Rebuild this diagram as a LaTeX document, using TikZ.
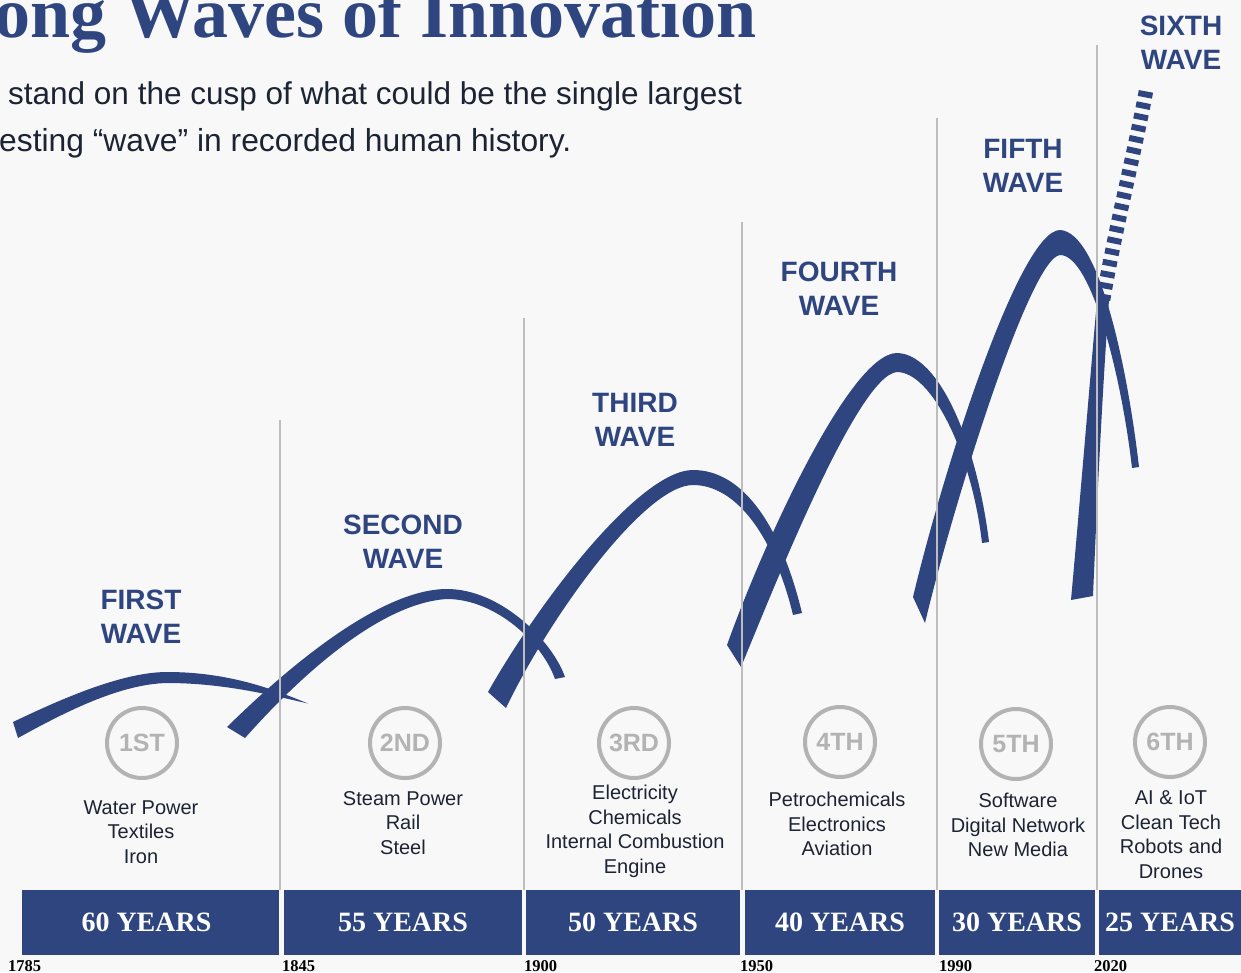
\documentclass[tikz,border=0pt]{standalone}
\usepackage{fontspec}
\setmainfont{Liberation Serif}
\newfontfamily\sansf{Liberation Sans}
\definecolor{navy}{HTML}{2E4580}
\definecolor{bgc}{HTML}{F8F8F9}
\definecolor{ink}{HTML}{1C2333}
\definecolor{ringgray}{HTML}{B3B3B3}
\definecolor{vline}{HTML}{BDBDBD}
\tikzset{
  wavefill/.style={fill=navy},
  divider/.style={draw=vline, line width=1.5pt},
  bar/.style={fill=navy, inner sep=0, text=white, font=\fontsize{28}{28}\selectfont\bfseries},
  yearlbl/.style={anchor=base west, inner sep=0, text=black, font=\fontsize{16.5}{16.5}\selectfont\bfseries},
  wavelbl/.style={align=center, inner sep=0, text=navy, font=\sansf\fontsize{28}{34}\selectfont\bfseries},
  ring/.style={circle, draw=ringgray, line width=4pt, minimum size=70pt, inner sep=0, text=ringgray, font=\sansf\fontsize{25}{25}\selectfont\bfseries},
  desc/.style={align=center, inner sep=0, text=ink, font=\sansf\fontsize{20}{24.5}\selectfont},
}
\begin{document}
\begin{tikzpicture}[x=1pt,y=-1pt]
\useasboundingbox (0,0) rectangle (1241,972);
\clip (0,0) rectangle (1241,972);
\fill[bgc] (0,0) rectangle (1241,972);

% title and subtitle
\node[anchor=base west, inner sep=0, text=navy, font=\fontsize{72}{72}\selectfont\bfseries] (title) at (-6,37) {ong Waves of Innovation};
\node[anchor=base west, inner sep=0, text=ink, font=\sansf\fontsize{31.5}{40}\selectfont] (sub1) at (8,104) {stand on the cusp of what could be the single largest};
\node[anchor=base west, inner sep=0, text=ink, font=\sansf\fontsize{31.8}{40}\selectfont] (sub2) at (-1,151) {esting “wave” in recorded human history.};

% waves (outer edge out, inner edge back)
\fill[wavefill] (13,722) .. controls (55,702) and (120,672) .. (167,672)
  .. controls (230,672) and (275,690) .. (308,703.5)
  .. controls (275,696) and (225,683) .. (167,683)
  .. controls (120,684) and (65,712) .. (18,738) -- cycle;
\fill[wavefill] (227,727) .. controls (287,668) and (380,589) .. (447,589)
  .. controls (500,589) and (552,640) .. (565,677)
  -- (555,679) .. controls (542,642) and (495,599) .. (447,599)
  .. controls (380,603) and (300,676) .. (245,738) -- cycle;
\fill[wavefill] (488,692) .. controls (540,600) and (640,470) .. (693,470)
  .. controls (745,470) and (782,530) .. (802,613)
  -- (793,615) .. controls (775,540) and (738,485) .. (693,485)
  .. controls (645,485) and (550,616) .. (506,708) -- cycle;
\fill[wavefill] (727,645) .. controls (763,544) and (850,353) .. (897,353)
  .. controls (940,354) and (977,445) .. (989,542)
  -- (982,543) .. controls (972,455) and (932,372) .. (897,372)
  .. controls (858,375) and (775,585) .. (741,667) -- cycle;
\fill[wavefill] (913,597) .. controls (944,467) and (1020,230) .. (1060,230)
  .. controls (1100,232) and (1128,372) .. (1139,467)
  -- (1132,468) .. controls (1122,380) and (1092,255) .. (1060,255)
  .. controls (1030,258) and (953,505) .. (925,623) -- cycle;
\fill[wavefill] (1071,600) .. controls (1080,500) and (1090,380) .. (1097,300)
  -- (1109,300) .. controls (1103,380) and (1097,500) .. (1093,596) -- cycle;
\coordinate (s6a) at (1103,300);
\coordinate (s6b) at (1146,91);
\draw[navy, line width=14.5pt, dash pattern=on 6pt off 5.5pt] (s6a) .. controls (1115,230) and (1135,150) .. (s6b);

% dividers
\coordinate (d1t) at (280,420); \coordinate (d1b) at (280,890);
\coordinate (d2t) at (524,318); \coordinate (d2b) at (524,890);
\coordinate (d3t) at (742,222); \coordinate (d3b) at (742,890);
\coordinate (d4t) at (937,118); \coordinate (d4b) at (937,890);
\coordinate (d5t) at (1097,45); \coordinate (d5b) at (1097,890);
\foreach \d in {1,...,5} \draw[divider] (d\d t) -- (d\d b);

% wave labels
\node[wavelbl] (w1) at (141,617) {FIRST\\WAVE};
\node[wavelbl] (w2) at (403,542) {SECOND\\WAVE};
\node[wavelbl] (w3) at (635,420) {THIRD\\WAVE};
\node[wavelbl] (w4) at (839,289) {FOURTH\\WAVE};
\node[wavelbl] (w5) at (1023,166) {FIFTH\\WAVE};
\node[wavelbl] (w6) at (1181,42.5) {SIXTH\\WAVE};

% rings
\node[ring] (r1) at (142,743) {1ST};
\node[ring] (r2) at (405,743) {2ND};
\node[ring] (r3) at (634,743) {3RD};
\node[ring] (r4) at (840,742) {4TH};
\node[ring] (r5) at (1016,744) {5TH};
\node[ring] (r6) at (1170,742) {6TH};

% descriptions
\node[desc] (t1) at (141,832) {Water Power\\Textiles\\Iron};
\node[desc] (t2) at (403,823) {Steam Power\\Rail\\Steel};
\node[desc] (t3) at (635,831.5) {Electricity\\Chemicals\\Internal Combustion\\Engine};
\node[desc] (t4) at (837,824) {Petrochemicals\\Electronics\\Aviation};
\node[desc] (t5) at (1018,825) {Software\\Digital Network\\New Media};
\node[desc] (t6) at (1171,834.5) {AI \& IoT\\Clean Tech\\Robots and\\Drones};

% bars
\node[bar, minimum width=257pt, minimum height=65pt] (b1) at (150.5,922.5) {\makebox[0pt]{\hspace*{-8pt}60 YEARS}};
\node[bar, minimum width=238pt, minimum height=65pt] (b2) at (403,922.5) {55 YEARS};
\node[bar, minimum width=214pt, minimum height=65pt] (b3) at (633,922.5) {50 YEARS};
\node[bar, minimum width=190pt, minimum height=65pt] (b4) at (840,922.5) {40 YEARS};
\node[bar, minimum width=156pt, minimum height=65pt] (b5) at (1017,922.5) {30 YEARS};
\node[bar, minimum width=142pt, minimum height=65pt] (b6) at (1170,922.5) {25 YEARS};

% years
\node[yearlbl] (y1) at (8,971) {1785};
\node[yearlbl] (y2) at (282,971) {1845};
\node[yearlbl] (y3) at (524,971) {1900};
\node[yearlbl] (y4) at (740,971) {1950};
\node[yearlbl] (y5) at (939,971) {1990};
\node[yearlbl] (y6) at (1094,971) {2020};
\end{tikzpicture}
\end{document}
